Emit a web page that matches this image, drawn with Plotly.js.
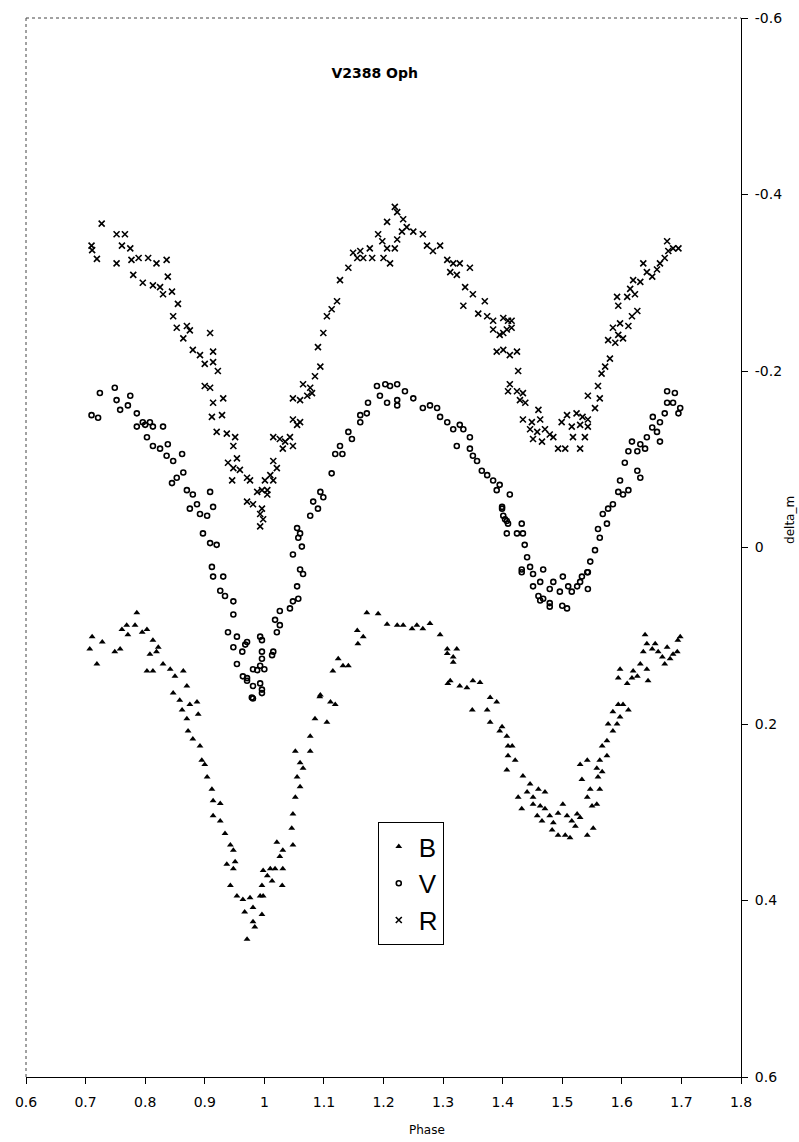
<!DOCTYPE html>
<html>
<head>
<meta charset="utf-8">
<script src="https://cdn.plot.ly/plotly-3.0.1.min.js"></script>
<style>html,body{margin:0;padding:0;background:#fff;}#chart{width:799px;height:1142px;}</style>
</head>
<body>
<div id="chart"></div>
<script>
// ---- data (phase, delta_m) ----
var bPhase = [0.786,0.711,0.728,0.707,0.719,0.761,0.769,0.783,0.795,0.803,0.813,0.749,0.758,0.771,0.808,0.819,0.822,0.803,0.813,0.830,0.842,0.850,0.864,0.870,0.847,0.858,0.862,0.875,0.887,0.889,0.870,0.872,0.880,0.892,0.895,0.900,0.904,0.912,0.914,0.926,0.914,0.926,0.934,0.943,0.948,0.937,0.948,0.951,0.943,0.954,0.964,0.976,0.967,0.981,0.993,0.996,0.998,1.005,0.981,0.984,0.971,
1.172,1.191,1.206,1.223,1.233,1.248,1.256,1.266,1.278,1.156,1.166,1.157,1.295,1.307,1.317,1.323,1.124,1.132,1.141,1.115,1.312,1.328,1.340,1.350,1.362,1.379,1.390,1.349,1.374,1.379,1.395,1.409,1.407,1.094,1.111,1.119,1.085,1.105,1.077,1.077,1.052,1.060,1.065,1.055,1.060,1.052,1.048,1.046,1.048,1.021,1.031,1.026,1.010,1.018,1.031,1.030,1.013,0.998,0.996,1.307,1.317,1.308,1.093,
1.399,1.407,1.416,1.409,1.421,1.434,1.446,1.441,1.451,1.460,1.471,1.426,1.432,1.451,1.463,1.471,1.458,1.466,1.479,1.485,1.493,1.483,1.493,1.505,1.513,1.501,1.508,1.516,1.525,1.530,1.522,1.542,1.552,1.550,1.558,1.542,1.547,1.563,1.560,1.567,1.533,1.542,1.530,1.558,1.563,1.575,1.567,1.575,1.585,1.592,1.577,1.585,1.597,1.602,1.611,1.594,1.594,1.597,1.609,1.617,1.626,1.619,1.631,1.642,1.644,1.636,1.642,1.651,1.656,1.661,1.668,1.672,1.676,1.681,1.686,1.693,1.698,1.694,1.639];
var bMag = [0.074,0.101,0.107,0.115,0.132,0.093,0.088,0.088,0.096,0.093,0.105,0.118,0.115,0.099,0.121,0.118,0.113,0.140,0.140,0.132,0.138,0.146,0.140,0.157,0.165,0.173,0.184,0.178,0.175,0.189,0.194,0.208,0.217,0.225,0.241,0.246,0.260,0.274,0.287,0.290,0.304,0.310,0.324,0.337,0.343,0.359,0.364,0.356,0.383,0.395,0.399,0.397,0.413,0.408,0.395,0.383,0.366,0.372,0.424,0.430,0.444,
0.074,0.075,0.087,0.088,0.088,0.092,0.088,0.092,0.086,0.094,0.101,0.109,0.099,0.115,0.124,0.115,0.126,0.134,0.134,0.140,0.151,0.157,0.159,0.151,0.153,0.170,0.175,0.184,0.184,0.198,0.208,0.225,0.252,0.167,0.175,0.178,0.194,0.198,0.214,0.231,0.231,0.244,0.250,0.260,0.271,0.283,0.302,0.318,0.337,0.334,0.343,0.350,0.364,0.364,0.364,0.383,0.378,0.395,0.416,0.120,0.130,0.154,0.169,
0.203,0.214,0.225,0.236,0.241,0.259,0.268,0.277,0.283,0.274,0.277,0.283,0.296,0.291,0.293,0.296,0.304,0.310,0.304,0.312,0.301,0.320,0.326,0.326,0.329,0.291,0.304,0.310,0.302,0.306,0.316,0.326,0.318,0.293,0.291,0.283,0.274,0.274,0.260,0.254,0.263,0.241,0.246,0.250,0.241,0.236,0.225,0.219,0.208,0.200,0.200,0.186,0.192,0.178,0.184,0.178,0.148,0.138,0.154,0.148,0.146,0.140,0.132,0.138,0.151,0.118,0.109,0.115,0.109,0.118,0.124,0.132,0.113,0.126,0.121,0.118,0.101,0.105,0.099];

var vPhase = [0.724,0.749,0.710,0.721,0.752,0.758,0.775,0.771,0.786,0.796,0.808,0.786,0.800,0.813,0.830,0.803,0.813,0.825,0.838,0.847,0.862,0.836,0.864,0.853,0.845,0.870,0.880,0.887,0.875,0.892,0.904,0.909,0.914,0.897,0.909,0.920,0.912,0.914,0.931,0.926,0.934,0.948,0.948,0.939,0.954,0.971,0.948,0.963,0.993,0.996,0.954,0.981,0.993,1.000,0.964,0.971,0.981,0.993,0.979,0.968,0.971,0.981,0.996,0.988,1.013,
1.189,1.203,1.211,1.223,1.236,1.194,1.206,1.223,1.223,1.174,1.161,1.172,1.161,1.250,1.266,1.278,1.290,1.295,1.307,1.317,1.328,1.334,1.345,1.323,1.345,1.350,1.357,1.365,1.374,1.384,1.395,1.390,1.399,1.401,1.407,1.407,1.141,1.147,1.127,1.131,1.119,1.113,1.094,1.099,1.082,1.077,1.090,1.055,1.060,1.057,1.063,1.048,1.060,1.065,1.055,1.057,1.048,1.043,1.026,1.018,1.026,1.021,0.996,1.015,0.996,0.996,
1.412,1.399,1.404,1.409,1.432,1.434,1.424,1.437,1.441,1.432,1.446,1.451,1.451,1.463,1.460,1.468,1.485,1.479,1.468,1.479,1.496,1.501,1.510,1.500,1.508,1.516,1.525,1.533,1.542,1.543,1.530,1.547,1.555,1.563,1.560,1.575,1.568,1.577,1.585,1.594,1.602,1.611,1.597,1.605,1.611,1.617,1.626,1.631,1.639,1.626,1.631,1.642,1.651,1.659,1.664,1.672,1.676,1.686,1.695,1.698,1.676,1.689,1.652,1.664,1.479,1.463,1.432,1.543];
var vMag = [-0.175,-0.181,-0.150,-0.147,-0.167,-0.156,-0.172,-0.161,-0.152,-0.142,-0.142,-0.137,-0.139,-0.137,-0.137,-0.125,-0.115,-0.112,-0.117,-0.098,-0.106,-0.104,-0.085,-0.079,-0.073,-0.065,-0.060,-0.049,-0.044,-0.038,-0.036,-0.063,-0.046,-0.016,-0.005,-0.003,0.022,0.033,0.033,0.049,0.055,0.061,0.076,0.096,0.101,0.107,0.113,0.118,0.101,0.118,0.132,0.138,0.134,0.138,0.146,0.151,0.157,0.154,0.170,0.110,0.148,0.171,0.165,0.139,0.122,
-0.183,-0.185,-0.183,-0.185,-0.177,-0.172,-0.164,-0.167,-0.161,-0.164,-0.150,-0.152,-0.142,-0.169,-0.158,-0.161,-0.158,-0.148,-0.142,-0.134,-0.139,-0.134,-0.125,-0.115,-0.112,-0.104,-0.098,-0.087,-0.082,-0.076,-0.071,-0.065,-0.044,-0.036,-0.030,-0.016,-0.131,-0.123,-0.115,-0.106,-0.106,-0.084,-0.063,-0.057,-0.052,-0.036,-0.044,-0.022,-0.016,-0.011,-0.001,0.008,0.025,0.030,0.044,0.058,0.061,0.069,0.072,0.082,0.088,0.096,0.105,0.118,0.126,0.161,
-0.060,-0.046,-0.032,-0.027,-0.027,-0.016,-0.016,-0.003,0.011,0.025,0.022,0.030,0.044,0.039,0.055,0.025,0.039,0.047,0.058,0.063,0.050,0.033,0.044,0.066,0.069,0.050,0.044,0.033,0.028,0.047,0.039,0.016,0.003,-0.011,-0.021,-0.027,-0.038,-0.044,-0.049,-0.063,-0.060,-0.065,-0.076,-0.096,-0.109,-0.120,-0.109,-0.117,-0.112,-0.087,-0.079,-0.125,-0.136,-0.131,-0.142,-0.152,-0.164,-0.164,-0.152,-0.158,-0.177,-0.175,-0.148,-0.120,0.067,0.060,0.028,0.028];

var rPhase = [0.727,0.710,0.711,0.719,0.752,0.766,0.752,0.761,0.775,0.777,0.789,0.805,0.780,0.796,0.813,0.825,0.819,0.836,0.838,0.845,0.830,0.855,0.847,0.853,0.870,0.864,0.875,0.909,0.880,0.892,0.900,0.914,0.914,0.922,0.900,0.909,0.914,0.931,0.912,0.929,0.920,0.937,0.951,0.948,0.939,0.954,0.948,0.959,0.971,0.976,0.946,0.988,1.005,0.971,0.981,0.993,0.993,
1.219,1.223,1.206,1.233,1.239,1.250,1.266,1.231,1.191,1.198,1.177,1.161,1.223,1.219,1.149,1.156,1.200,1.211,1.206,1.166,1.181,1.141,1.273,1.283,1.295,1.127,1.122,1.113,1.105,1.099,1.307,1.317,1.328,1.312,1.323,1.345,1.337,1.350,1.370,1.334,1.359,1.374,1.384,1.401,1.409,1.384,1.395,1.407,1.390,1.401,1.409,1.090,1.094,1.085,1.065,1.077,1.048,1.060,1.072,1.080,1.048,1.055,1.060,1.015,1.026,1.035,1.031,1.048,1.043,1.015,1.021,1.010,1.001,1.015,0.996,1.005,0.996,0.998,
1.415,1.401,1.415,1.412,1.424,1.426,1.412,1.424,1.434,1.429,1.438,1.460,1.434,1.449,1.463,1.446,1.458,1.471,1.479,1.451,1.466,1.485,1.493,1.505,1.530,1.499,1.508,1.524,1.534,1.543,1.516,1.530,1.543,1.518,1.538,1.543,1.555,1.563,1.560,1.566,1.572,1.580,1.577,1.589,1.594,1.602,1.585,1.597,1.611,1.592,1.594,1.609,1.614,1.622,1.626,1.617,1.619,1.631,1.636,1.642,1.651,1.659,1.664,1.672,1.678,1.686,1.676,1.695];
var rMag = [-0.367,-0.342,-0.337,-0.327,-0.355,-0.355,-0.322,-0.342,-0.339,-0.326,-0.328,-0.328,-0.309,-0.300,-0.297,-0.295,-0.322,-0.326,-0.307,-0.290,-0.287,-0.276,-0.262,-0.249,-0.251,-0.237,-0.246,-0.243,-0.224,-0.218,-0.208,-0.222,-0.210,-0.200,-0.183,-0.181,-0.164,-0.169,-0.148,-0.150,-0.131,-0.129,-0.125,-0.115,-0.096,-0.101,-0.090,-0.088,-0.079,-0.076,-0.076,-0.063,-0.065,-0.052,-0.049,-0.038,-0.024,
-0.386,-0.380,-0.369,-0.372,-0.363,-0.358,-0.355,-0.358,-0.355,-0.347,-0.339,-0.336,-0.349,-0.339,-0.334,-0.328,-0.328,-0.322,-0.339,-0.328,-0.328,-0.317,-0.342,-0.336,-0.342,-0.303,-0.279,-0.270,-0.262,-0.243,-0.326,-0.322,-0.322,-0.312,-0.309,-0.317,-0.295,-0.287,-0.279,-0.274,-0.265,-0.262,-0.257,-0.260,-0.257,-0.247,-0.241,-0.247,-0.222,-0.224,-0.177,-0.227,-0.205,-0.194,-0.185,-0.181,-0.169,-0.167,-0.172,-0.175,-0.145,-0.139,-0.142,-0.125,-0.123,-0.120,-0.112,-0.115,-0.125,-0.098,-0.090,-0.082,-0.076,-0.076,-0.065,-0.060,-0.044,-0.032,
-0.257,-0.243,-0.249,-0.218,-0.222,-0.200,-0.185,-0.177,-0.175,-0.167,-0.164,-0.156,-0.145,-0.142,-0.145,-0.134,-0.131,-0.134,-0.128,-0.123,-0.120,-0.125,-0.112,-0.112,-0.112,-0.142,-0.150,-0.152,-0.148,-0.145,-0.137,-0.139,-0.137,-0.125,-0.125,-0.172,-0.158,-0.169,-0.183,-0.197,-0.205,-0.214,-0.235,-0.232,-0.241,-0.237,-0.249,-0.254,-0.251,-0.284,-0.274,-0.284,-0.293,-0.287,-0.268,-0.262,-0.303,-0.301,-0.322,-0.312,-0.307,-0.315,-0.322,-0.328,-0.336,-0.339,-0.347,-0.339];

var seriesNames = ['B', 'V', 'R'];
var xTickVals = [0.6,0.7,0.8,0.9,1.0,1.1,1.2,1.3,1.4,1.5,1.6,1.7,1.8];
var xTickText = ['0.6','0.7','0.8','0.9','1','1.1','1.2','1.3','1.4','1.5','1.6','1.7','1.8'];
var yTickVals = [-0.6,-0.4,-0.2,0,0.2,0.4,0.6];
var yTickText = ['-0.6','-0.4','-0.2','0','0.2','0.4','0.6'];
var chartTitle = 'V2388 Oph';
var xTitle = 'Phase';
var yTitle = 'delta_m';

var tickFont = {family: 'DejaVu Sans, Arial, sans-serif', size: 14, color: '#000'};

var traces = [
  {type: 'scatter', mode: 'markers', name: seriesNames[0], x: bPhase, y: bMag,
   marker: {symbol: 'triangle-up', size: 6, color: '#000', line: {width: 0}}},
  {type: 'scatter', mode: 'markers', name: seriesNames[1], x: vPhase, y: vMag,
   marker: {symbol: 'circle-open', size: 5, color: '#000', line: {width: 1.6, color: '#000'}}},
  {type: 'scatter', mode: 'markers', name: seriesNames[2], x: rPhase, y: rMag,
   marker: {symbol: 'x-thin-open', size: 6, color: '#000', line: {width: 1.6, color: '#000'}}}
];

var layout = {
  width: 799, height: 1142,
  margin: {l: 26, r: 58, t: 18, b: 65, autoexpand: false},
  paper_bgcolor: '#fff', plot_bgcolor: '#fff',
  showlegend: true,
  title: {text: chartTitle, x: 0.469, xref: 'container', xanchor: 'center',
          y: 0.936, yref: 'container', yanchor: 'middle',
          font: {family: 'DejaVu Sans, Arial, sans-serif', size: 14, weight: 'bold', color: '#000'}},
  xaxis: {range: [0.6, 1.8], autorange: false, tickvals: xTickVals, ticktext: xTickText,
          showgrid: false, zeroline: false, showline: true, linecolor: '#000', linewidth: 1,
          ticks: 'outside', ticklen: 6, tickcolor: '#000', tickfont: tickFont, mirror: false,
          ticklabelstandoff: 6},
  yaxis: {range: [0.6, -0.6], autorange: false, side: 'right', tickvals: yTickVals, ticktext: yTickText,
          showgrid: false, zeroline: false, showline: true, linecolor: '#000', linewidth: 1,
          ticks: 'outside', ticklen: 6, tickcolor: '#000', tickfont: tickFont, mirror: false,
          ticklabelstandoff: 4},
  legend: {x: 0.492, y: 0.2408, xanchor: 'left', yanchor: 'top', xref: 'paper', yref: 'paper',
           bgcolor: '#fff', bordercolor: '#000', borderwidth: 1,
           font: {family: 'Liberation Sans, Arial, sans-serif', size: 26, color: '#000'},
           itemsizing: 'trace', tracegroupgap: 0, itemwidth: 30},
  shapes: [
    {type: 'line', xref: 'paper', yref: 'paper', x0: 0, x1: 1, y0: 1, y1: 1,
     line: {color: '#444', width: 1, dash: 'dot'}},
    {type: 'line', xref: 'paper', yref: 'paper', x0: 0, x1: 0, y0: 0, y1: 1,
     line: {color: '#444', width: 1, dash: 'dot'}}
  ],
  annotations: [
    {text: xTitle, xref: 'paper', yref: 'paper', x: 0.561, y: -0.05, xanchor: 'center', yanchor: 'middle',
     showarrow: false, font: {family: 'DejaVu Sans, Arial, sans-serif', size: 12, color: '#000'}},
    {text: yTitle, xref: 'paper', yref: 'paper', x: 1.0685, y: 0.526, xanchor: 'center', yanchor: 'middle',
     textangle: -90, showarrow: false, font: {family: 'DejaVu Sans, Arial, sans-serif', size: 12, color: '#000'}}
  ]
};

Plotly.newPlot('chart', traces, layout, {displayModeBar: false, staticPlot: true});
</script>
</body>
</html>
